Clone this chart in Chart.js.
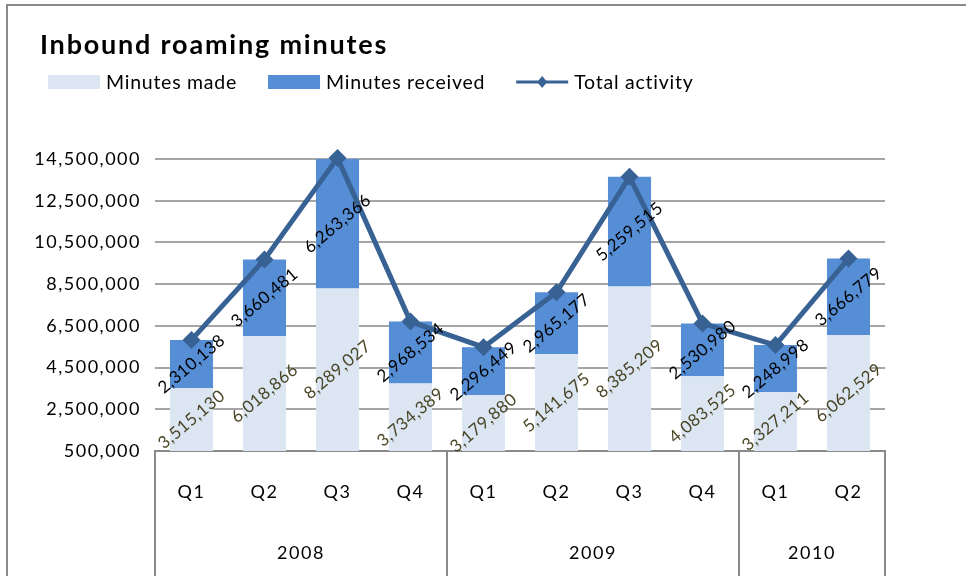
<!DOCTYPE html>
<html>
<head>
<meta charset="utf-8">
<script src="https://cdn.jsdelivr.net/npm/chart.js@4.4.1/dist/chart.umd.min.js"></script>
<style>
  html, body { margin: 0; padding: 0; background: #ffffff; }
  #wrap { position: relative; width: 966px; height: 576px; }
</style>
</head>
<body>
<div id="wrap"><canvas id="chart"></canvas></div>
<script>
// Quarterly inbound roaming minutes, 2008 Q1 – 2010 Q2
const quarters = ['Q1', 'Q2', 'Q3', 'Q4', 'Q1', 'Q2', 'Q3', 'Q4', 'Q1', 'Q2'];
const years = ['2008', '2009', '2010'];
const quartersPerYear = [4, 4, 2];
const minutesMade = [3515130, 6018866, 8289027, 3734389, 3179880, 5141675, 8385209, 4083525, 3327211, 6062529];
const minutesReceived = [2310138, 3660481, 6263366, 2968534, 2296449, 2965177, 5259515, 2530980, 2248998, 3666779];
const totalActivity = [5825268, 9679347, 14552393, 6702923, 5476329, 8106852, 13644724, 6614505, 5576209, 9729308];
const yAxisMin = 500000;
const yAxisMax = 14500000;
const yAxisStep = 2000000;
const chartTitle = 'Inbound roaming minutes';

const FONT = 'Lato, "Open Sans", sans-serif';
const COLORS = {
  made: '#dce6f2',
  received: '#558ed5',
  total: '#386194',
  grid: '#a5a5a5',
  frame: '#8a8a8a',
  madeLabel: '#4a4526',
  receivedLabel: '#000000'
};

const fmt = v => Number(v).toLocaleString('en-US');

// White page, outer frame and a little extra tracking for all text
const framePlugin = {
  id: 'frame',
  beforeDraw(chart) {
    const { ctx, width, height } = chart;
    ctx.save();
    ctx.fillStyle = '#ffffff';
    ctx.fillRect(0, 0, width, height);
    ctx.strokeStyle = COLORS.frame;
    ctx.lineWidth = 2;
    ctx.strokeRect(7, 5, width + 20, height + 20);
    ctx.restore();
    ctx.letterSpacing = '1.5px';
  }
};

// Title and legend row: two swatches and a line-with-diamond
const headerPlugin = {
  id: 'header',
  afterDraw(chart) {
    const { ctx } = chart;
    ctx.save();
    ctx.letterSpacing = '1.8px';
    ctx.font = 'bold 27px ' + FONT;
    ctx.fillStyle = '#000000';
    ctx.textBaseline = 'middle';
    ctx.textAlign = 'left';
    ctx.fillText(chartTitle, 40, 45);

    const y = 82;
    let x = 48;
    ctx.letterSpacing = '0.75px';
    ctx.font = '19.5px ' + FONT;
    chart.data.datasets.forEach(ds => {
      const w = 52;
      if (ds.type === 'line') {
        ctx.strokeStyle = ds.borderColor;
        ctx.lineWidth = 3;
        ctx.beginPath();
        ctx.moveTo(x, y);
        ctx.lineTo(x + w, y);
        ctx.stroke();
        ctx.fillStyle = ds.borderColor;
        ctx.beginPath();
        ctx.moveTo(x + w / 2, y - 6);
        ctx.lineTo(x + w / 2 + 5, y);
        ctx.lineTo(x + w / 2, y + 6);
        ctx.lineTo(x + w / 2 - 5, y);
        ctx.closePath();
        ctx.fill();
      } else {
        ctx.fillStyle = ds.backgroundColor;
        ctx.fillRect(x, y - 7, w, 14);
      }
      x += w + 6;
      ctx.fillStyle = '#000000';
      ctx.fillText(ds.label, x, y + 1);
      x += ctx.measureText(ds.label).width + 31;
    });
    ctx.restore();
  }
};

// Year groups below the quarter labels, with separating rules
const yearAxisPlugin = {
  id: 'yearAxis',
  afterDraw(chart) {
    const { ctx, chartArea, height } = chart;
    const xs = chart.scales.x;
    const half = (xs.getPixelForValue(1) - xs.getPixelForValue(0)) / 2;
    ctx.save();
    ctx.strokeStyle = COLORS.frame;
    ctx.lineWidth = 2;
    ctx.fillStyle = '#000000';
    ctx.font = '18px ' + FONT;
    ctx.textAlign = 'center';
    ctx.textBaseline = 'middle';
    let start = 0;
    let left = xs.getPixelForValue(0) - half;
    const vline = px => {
      ctx.beginPath();
      ctx.moveTo(Math.round(px), chartArea.bottom);
      ctx.lineTo(Math.round(px), height);
      ctx.stroke();
    };
    vline(left);
    years.forEach((yr, k) => {
      const end = start + quartersPerYear[k] - 1;
      const right = xs.getPixelForValue(end) + half;
      vline(right);
      ctx.fillText(yr, (left + right) / 2, chartArea.bottom + 102);
      left = right;
      start = end + 1;
    });
    ctx.restore();
  }
};

// Value labels centred on each visible bar segment, tilted
const segmentLabelPlugin = {
  id: 'segmentLabels',
  afterDraw(chart) {
    const { ctx, chartArea } = chart;
    ctx.save();
    ctx.letterSpacing = '0.5px';
    ctx.font = '17px ' + FONT;
    ctx.textAlign = 'center';
    ctx.textBaseline = 'middle';
    chart.data.datasets.forEach((ds, di) => {
      if (ds.type === 'line') return;
      const meta = chart.getDatasetMeta(di);
      meta.data.forEach((bar, i) => {
        const top = Math.max(bar.y, chartArea.top);
        const bottom = Math.min(bar.base, chartArea.bottom);
        ctx.save();
        ctx.translate(bar.x, (top + bottom) / 2);
        ctx.rotate(-40 * Math.PI / 180);
        ctx.fillStyle = ds.valueLabelColor;
        ctx.fillText(fmt(ds.data[i]), 0, 0);
        ctx.restore();
      });
    });
    ctx.restore();
  }
};

new Chart(document.getElementById('chart'), {
  data: {
    labels: quarters,
    datasets: [
      {
        type: 'bar',
        label: 'Minutes made',
        data: minutesMade,
        backgroundColor: COLORS.made,
        valueLabelColor: COLORS.madeLabel,
        stack: 'minutes',
        order: 2,
        barPercentage: 0.59,
        categoryPercentage: 1.0
      },
      {
        type: 'bar',
        label: 'Minutes received',
        data: minutesReceived,
        backgroundColor: COLORS.received,
        valueLabelColor: COLORS.receivedLabel,
        stack: 'minutes',
        order: 2,
        barPercentage: 0.59,
        categoryPercentage: 1.0
      },
      {
        type: 'line',
        label: 'Total activity',
        data: totalActivity,
        borderColor: COLORS.total,
        backgroundColor: COLORS.total,
        borderWidth: 5,
        pointStyle: 'rectRot',
        pointRadius: 9,
        pointBackgroundColor: COLORS.total,
        pointBorderWidth: 0,
        tension: 0,
        stack: 'total',
        order: 1,
        clip: false
      }
    ]
  },
  options: {
    responsive: true,
    maintainAspectRatio: false,
    animation: false,
    layout: { padding: { left: 18, right: 81, top: 159, bottom: 0 } },
    plugins: {
      legend: { display: false },
      tooltip: { enabled: false },
      title: { display: false }
    },
    scales: {
      x: {
        stacked: true,
        grid: { display: false },
        border: { display: true, color: COLORS.frame, width: 2 },
        ticks: { color: '#000000', font: { family: FONT, size: 18 }, padding: 22, maxRotation: 0, autoSkip: false },
        afterFit(scale) { scale.height = 125; }
      },
      y: {
        stacked: true,
        min: yAxisMin,
        max: yAxisMax,
        grid: { color: COLORS.grid, lineWidth: 2, drawTicks: false },
        border: { display: false },
        ticks: {
          stepSize: yAxisStep,
          color: '#000000',
          font: { family: FONT, size: 18 },
          padding: 14,
          callback: v => fmt(v)
        },
        afterFit(scale) { scale.width = 137; }
      }
    }
  },
  plugins: [framePlugin, headerPlugin, yearAxisPlugin, segmentLabelPlugin]
});
</script>
</body>
</html>
